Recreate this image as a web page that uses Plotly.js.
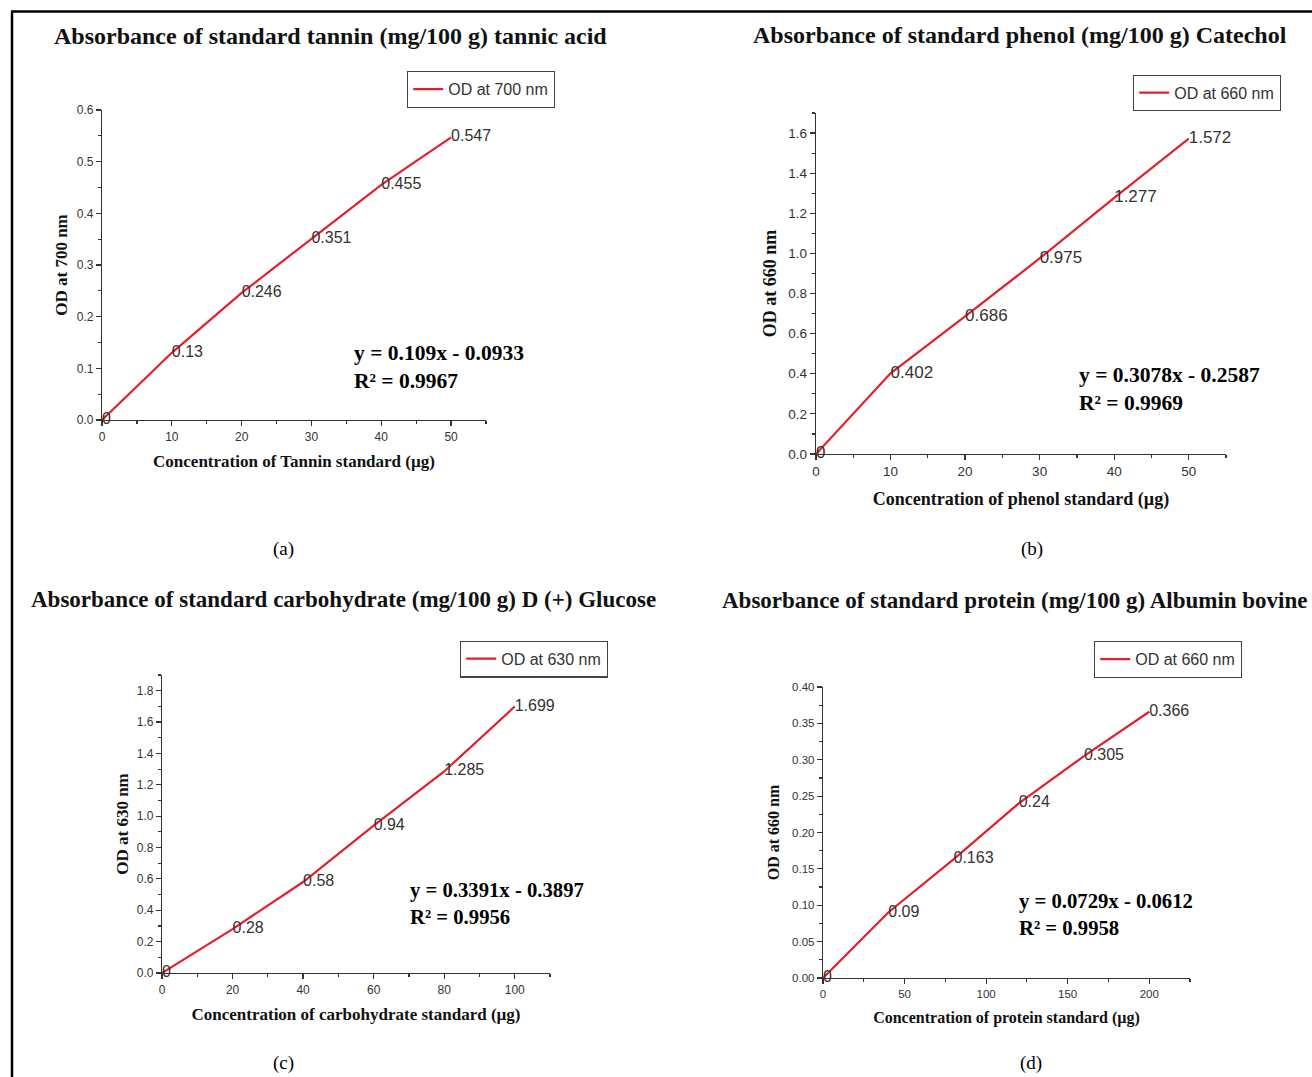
<!DOCTYPE html>
<html>
<head>
<meta charset="utf-8">
<script src="https://cdn.plot.ly/plotly-3.0.1.min.js"></script>
<style>
html,body{margin:0;padding:0;background:#fff;}
#chart{width:1312px;height:1077px;}
</style>
</head>
<body>
<div id="chart"></div>
<script>
// ---------- data ----------
const tanninConc = [0, 10, 20, 30, 40, 50];
const tanninOD = [0, 0.13, 0.246, 0.351, 0.455, 0.547];
const phenolConc = [0, 10, 20, 30, 40, 50];
const phenolOD = [0, 0.402, 0.686, 0.975, 1.277, 1.572];
const carbConc = [0, 20, 40, 60, 80, 100];
const carbOD = [0, 0.28, 0.58, 0.94, 1.285, 1.699];
const proteinConc = [0, 40, 80, 120, 160, 200];
const proteinOD = [0, 0.09, 0.163, 0.24, 0.305, 0.366];

const panelTitles = [
  "Absorbance of standard tannin (mg/100 g) tannic acid",
  "Absorbance of standard phenol (mg/100 g) Catechol",
  "Absorbance of standard carbohydrate (mg/100 g) D (+) Glucose",
  "Absorbance of standard protein (mg/100 g) Albumin bovine"
];
const xTitles = [
  "Concentration of Tannin standard (µg)",
  "Concentration of phenol standard (µg)",
  "Concentration of carbohydrate standard (µg)",
  "Concentration of protein standard (µg)"
];
const yTitles = ["OD at 700 nm", "OD at 660 nm", "OD at 630 nm", "OD at 660 nm"];
const seriesNames = ["OD at 700 nm", "OD at 660 nm", "OD at 630 nm", "OD at 660 nm"];
const equations = [
  "y = 0.109x - 0.0933<br>R² = 0.9967",
  "y = 0.3078x - 0.2587<br>R² = 0.9969",
  "y = 0.3391x - 0.3897<br>R² = 0.9956",
  "y = 0.0729x - 0.0612<br>R² = 0.9958"
];
const panelLetters = ["(a)", "(b)", "(c)", "(d)"];

// ---------- layout helpers ----------
const W = 1312, H = 1077;
const px = v => v / W;
const py = v => 1 - v / H;
const SERIF = "Liberation Serif, Times New Roman, serif";
const SANS = "Liberation Sans, Arial, sans-serif";
const RED = "#e3202a";
const INK = "#333333";

const xs = [tanninConc, phenolConc, carbConc, proteinConc];
const ys = [tanninOD, phenolOD, carbOD, proteinOD];

// panel geometry (pixels)
const panels = [
  {x0:102, x1:486, xr:[0,55], xd:10, xm:5, y0:420, y1:110, yr:[0,0.6], yd:0.1, ym:0.05, yf:".1f", tf:12, lf:16, af:17, xs:12, ys:4,
   leg:{x:555, y:71}, eq:{x:352, y:339, s:21.5}, title:{x:330, y:36, s:24}, letter:{x:283, y:549}},
  {x0:816, x1:1226, xr:[0,55], xd:10, xm:5, y0:454, y1:113, yr:[0,1.7], yd:0.2, ym:0.1, yf:".1f", tf:13.5, lf:17, af:18, xs:14, ys:7,
   leg:{x:1281, y:74.5}, eq:{x:1077, y:361, s:21.5}, title:{x:1020, y:35, s:24}, letter:{x:1032, y:549}},
  {x0:162, x1:550, xr:[0,110], xd:20, xm:10, y0:973, y1:675, yr:[0,1.9], yd:0.2, ym:0.1, yf:".1f", tf:12, lf:16, af:17, xs:12, ys:3,
   leg:{x:608, y:640.5}, eq:{x:408, y:877, s:20.7}, title:{x:343, y:599, s:23}, letter:{x:283, y:1063}},
  {x0:823, x1:1190, xr:[0,225], xd:50, xm:25, y0:978, y1:687, yr:[0,0.4], yd:0.05, ym:0.025, yf:".2f", tf:11.5, lf:16, af:16, xs:12, ys:8,
   leg:{x:1242, y:641}, eq:{x:1017, y:888, s:20.7}, title:{x:1015, y:600, s:23}, letter:{x:1031, y:1063}}
];

const data = [];
const layout = {
  width: W, height: H,
  margin: {l:0, r:0, t:0, b:0},
  paper_bgcolor: "#ffffff",
  plot_bgcolor: "rgba(0,0,0,0)",
  showlegend: true,
  annotations: [],
  shapes: [
    {type:"line", xref:"paper", yref:"paper", x0:px(12), x1:px(12), y0:0, y1:py(11.5), line:{color:"#000", width:2.5}},
    {type:"line", xref:"paper", yref:"paper", x0:px(11), x1:1, y0:py(11.5), y1:py(11.5), line:{color:"#000", width:2.5}}
  ]
};

panels.forEach((p, i) => {
  const n = i + 1;
  const xk = n === 1 ? "xaxis" : "xaxis" + n;
  const yk = n === 1 ? "yaxis" : "yaxis" + n;
  const lk = n === 1 ? "legend" : "legend" + n;
  data.push({
    type: "scatter",
    mode: "lines+text",
    x: xs[i], y: ys[i],
    text: ys[i].map(v => String(v)),
    textposition: "middle right",
    textfont: {family: SANS, size: p.lf, color: INK},
    line: {color: RED, width: 2.2},
    name: seriesNames[i],
    xaxis: "x" + (n === 1 ? "" : n),
    yaxis: "y" + (n === 1 ? "" : n),
    legend: lk,
    cliponaxis: false,
    hoverinfo: "x+y"
  });
  const axCommon = {
    showline: true, linecolor: INK, linewidth: 1.2,
    showgrid: false, zeroline: false,
    ticks: "outside", ticklen: 5, tickwidth: 1.2, tickcolor: INK,
    tickfont: {family: SANS, size: p.tf, color: INK},
    fixedrange: true
  };
  layout[xk] = Object.assign({}, axCommon, {
    domain: [px(p.x0), px(p.x1)],
    range: p.xr,
    dtick: p.xd, tick0: 0,
    minor: {dtick: p.xm, tick0: 0, ticks: "outside", ticklen: 3, tickwidth: 1.2, tickcolor: INK, showgrid: false},
    anchor: "y" + (n === 1 ? "" : n),
    title: {text: xTitles[i], font: {family: SERIF, size: p.af, color: "#111", weight: "bold"}, standoff: p.xs}
  });
  layout[yk] = Object.assign({}, axCommon, {
    domain: [py(p.y0), py(p.y1)],
    range: p.yr,
    dtick: p.yd, tick0: 0, tickformat: p.yf,
    minor: {dtick: p.ym, tick0: 0, ticks: "outside", ticklen: 3, tickwidth: 1.2, tickcolor: INK, showgrid: false},
    anchor: "x" + (n === 1 ? "" : n),
    title: {text: yTitles[i], font: {family: SERIF, size: p.af, color: "#111", weight: "bold"}, standoff: p.ys}
  });
  layout[lk] = {
    x: px(p.leg.x), y: py(p.leg.y), xanchor: "right", yanchor: "top",
    xref: "paper", yref: "paper",
    bgcolor: "#ffffff", bordercolor: "#444", borderwidth: 1.2,
    font: {family: SANS, size: 16, color: INK},
    itemwidth: 30, tracegroupgap: 0
  };
  layout.annotations.push({
    xref: "paper", yref: "paper", x: px(p.title.x), y: py(p.title.y),
    xanchor: "center", yanchor: "middle", showarrow: false,
    text: "<b>" + panelTitles[i] + "</b>",
    font: {family: SERIF, size: p.title.s, color: "#111"}
  });
  layout.annotations.push({
    xref: "paper", yref: "paper", x: px(p.eq.x), y: py(p.eq.y),
    xanchor: "left", yanchor: "top", align: "left", showarrow: false,
    text: "<b>" + equations[i] + "</b>",
    font: {family: SERIF, size: p.eq.s, color: "#000"}
  });
  layout.annotations.push({
    xref: "paper", yref: "paper", x: px(p.letter.x), y: py(p.letter.y),
    xanchor: "center", yanchor: "middle", showarrow: false,
    text: panelLetters[i],
    font: {family: SERIF, size: 19, color: "#000"}
  });
});

Plotly.newPlot("chart", data, layout, {displayModeBar: false, staticPlot: true});
</script>
</body>
</html>
